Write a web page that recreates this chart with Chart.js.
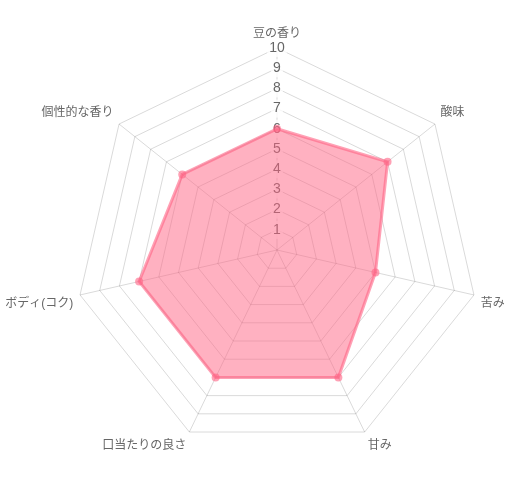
<!DOCTYPE html>
<html>
<head>
<meta charset="utf-8">
<script src="https://cdn.jsdelivr.net/npm/chart.js@4"></script>
<style>
  html, body { margin: 0; padding: 0; background: #fff; overflow: hidden; }
  #wrap { position: absolute; left: -17px; top: -12px; width: 544px; height: 512px; }
</style>
</head>
<body>
<div id="wrap"><canvas id="radarChart"></canvas></div>
<script>
// Data
const labels = ['豆の香り', '酸味', '苦み', '甘み', '口当たりの良さ', 'ボディ(コク)', '個性的な香り'];
const scores = [6, 7, 5, 7, 7, 7, 6];
const tickMin = 0;
const tickMax = 10;

Chart.defaults.font.family = '"Liberation Sans", Arial, "Noto Sans CJK JP", sans-serif';
Chart.defaults.color = '#666';

const ctx = document.getElementById('radarChart').getContext('2d');
new Chart(ctx, {
    type: 'radar',
    data: {
        labels: labels,
        datasets: [{
            label: 'score',
            data: scores,
            backgroundColor: 'rgba(255, 99, 132, 0.5)',
            borderColor: 'rgba(255, 99, 132, 0.6)',
            borderWidth: 3,
            pointRadius: 4,
            pointBackgroundColor: 'rgba(255, 99, 132, 0.6)',
            pointBorderWidth: 0
        }]
    },
    options: {
        responsive: true,
        maintainAspectRatio: false,
        animation: false,
        plugins: { legend: { display: false }, tooltip: { enabled: false } },
        scales: {
            r: {
                min: tickMin,
                max: tickMax,
                ticks: { stepSize: 1, color: '#666', font: { size: 14 }, backdropColor: 'rgba(255,255,255,0.75)' },
                grid: { color: 'rgba(0,0,0,0.15)' },
                angleLines: { color: 'rgba(0,0,0,0.15)' },
                pointLabels: { color: '#666', font: { size: 12 }, padding: -2 }
            }
        }
    }
});
</script>
</body>
</html>
